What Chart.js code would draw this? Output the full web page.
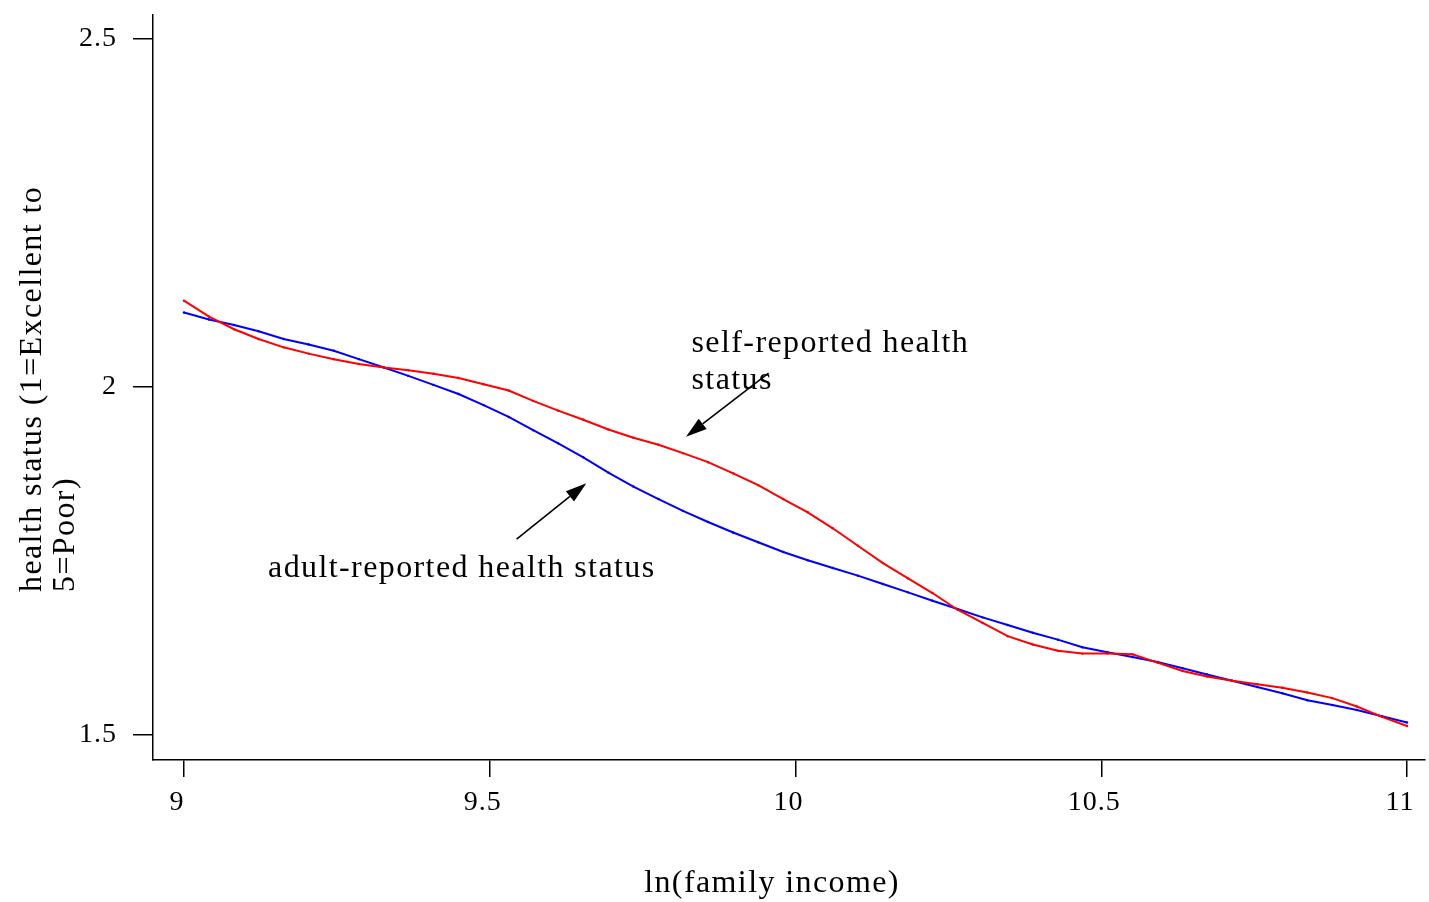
<!DOCTYPE html>
<html>
<head>
<meta charset="utf-8">
<script src="https://cdn.jsdelivr.net/npm/chart.js@4.4.1/dist/chart.umd.min.js"></script>
<style>
  html, body { margin: 0; padding: 0; background: #ffffff; }
  #wrap { width: 1429px; height: 902px; }
</style>
</head>
<body>
<div id="wrap"><canvas id="chart" width="1429" height="902"></canvas></div>
<script>
// ln(family income) grid
const incomeLog = [
  9.000, 9.041, 9.082, 9.122, 9.163, 9.204, 9.245, 9.286, 9.327, 9.367,
  9.408, 9.449, 9.490, 9.531, 9.571, 9.612, 9.653, 9.694, 9.735, 9.776,
  9.816, 9.857, 9.898, 9.939, 9.980, 10.020, 10.061, 10.102, 10.143, 10.184,
  10.224, 10.265, 10.306, 10.347, 10.388, 10.429, 10.469, 10.510, 10.551, 10.592,
  10.633, 10.673, 10.714, 10.755, 10.796, 10.837, 10.878, 10.918, 10.959, 11.000
];

// self-reported health status (red)
const selfReported = [
  2.124, 2.101, 2.083, 2.069, 2.057, 2.048, 2.040, 2.033, 2.028, 2.024,
  2.019, 2.013, 2.004, 1.995, 1.980, 1.966, 1.953, 1.939, 1.927, 1.917,
  1.905, 1.892, 1.876, 1.859, 1.839, 1.820, 1.797, 1.772, 1.747, 1.725,
  1.704, 1.680, 1.661, 1.642, 1.630, 1.621, 1.617, 1.617, 1.616, 1.604,
  1.592, 1.584, 1.578, 1.573, 1.568, 1.561, 1.553, 1.541, 1.526, 1.513
];

// adult-reported health status (blue)
const adultReported = [
  2.107, 2.097, 2.089, 2.080, 2.069, 2.061, 2.052, 2.040, 2.028, 2.016,
  2.003, 1.990, 1.974, 1.957, 1.938, 1.919, 1.899, 1.877, 1.857, 1.839,
  1.822, 1.806, 1.791, 1.777, 1.763, 1.751, 1.740, 1.729, 1.717, 1.705,
  1.693, 1.681, 1.669, 1.658, 1.647, 1.637, 1.626, 1.619, 1.612, 1.605,
  1.596, 1.587, 1.578, 1.569, 1.560, 1.550, 1.543, 1.536, 1.527, 1.518
];

const xTickValues = [9, 9.5, 10, 10.5, 11];
const xTickLabels = ['9', '9.5', '10', '10.5', '11'];
const yTickValues = [1.5, 2, 2.5];
const yTickLabels = ['1.5', '2', '2.5'];

const xTitle = 'ln(family income)';
const yTitleLines = ['health status (1=Excellent to', '5=Poor)'];

// labelled arrows, anchored in data units
const callouts = [
  { lines: ['self-reported health', 'status'], at: [9.830, 2.0507],
    from: [9.956, 2.0201], to: [9.821, 1.9286] },
  { lines: ['adult-reported health status'], at: [9.1375, 1.7266],
    from: [9.544, 1.7816], to: [9.658, 1.8616] }
];

const SERIF = '"Liberation Serif", "Times New Roman", Times, serif';

const textPlugin = {
  id: 'textPlugin',
  beforeDraw(chart) {
    chart.ctx.letterSpacing = '1px';
  },
  afterDraw(chart) {
    const ctx = chart.ctx;
    const xs = chart.scales.x, ys = chart.scales.y;
    ctx.save();
    ctx.letterSpacing = '1.4px';
    ctx.fillStyle = '#000';
    ctx.strokeStyle = '#000';
    ctx.font = '32px ' + SERIF;
    ctx.textBaseline = 'alphabetic';

    callouts.forEach(c => {
      const tx = xs.getPixelForValue(c.at[0]);
      const ty = ys.getPixelForValue(c.at[1]);
      ctx.textAlign = 'left';
      c.lines.forEach((ln, i) => ctx.fillText(ln, tx, ty + i * 37));

      const x1 = xs.getPixelForValue(c.from[0]), y1 = ys.getPixelForValue(c.from[1]);
      const x2 = xs.getPixelForValue(c.to[0]), y2 = ys.getPixelForValue(c.to[1]);
      const ang = Math.atan2(y2 - y1, x2 - x1);
      const headLen = 21, headHalf = 6.5;
      const bx = x2 - headLen * Math.cos(ang), by = y2 - headLen * Math.sin(ang);
      ctx.lineWidth = 1.6;
      ctx.beginPath();
      ctx.moveTo(x1, y1);
      ctx.lineTo(bx, by);
      ctx.stroke();
      ctx.beginPath();
      ctx.moveTo(x2, y2);
      ctx.lineTo(bx + headHalf * Math.sin(ang), by - headHalf * Math.cos(ang));
      ctx.lineTo(bx - headHalf * Math.sin(ang), by + headHalf * Math.cos(ang));
      ctx.closePath();
      ctx.fill();
    });

    // x axis title
    ctx.textAlign = 'center';
    ctx.fillText(xTitle, 772, 892);

    // y axis title, two lines reading upward
    ctx.translate(41, 592);
    ctx.rotate(-Math.PI / 2);
    ctx.textAlign = 'left';
    yTitleLines.forEach((ln, i) => ctx.fillText(ln, 0, i * 33));
    ctx.restore();
  }
};

new Chart(document.getElementById('chart'), {
  type: 'line',
  data: {
    labels: incomeLog,
    datasets: [
      {
        label: 'self-reported health status',
        data: incomeLog.map((x, i) => ({ x, y: selfReported[i] })),
        borderColor: '#ff0000',
        backgroundColor: '#ff0000',
        borderWidth: 2,
        pointRadius: 1.2,
        pointBorderWidth: 0,
        tension: 0,
        fill: false
      },
      {
        label: 'adult-reported health status',
        data: incomeLog.map((x, i) => ({ x, y: adultReported[i] })),
        borderColor: '#0000ff',
        backgroundColor: '#0000ff',
        borderWidth: 2,
        pointRadius: 1.2,
        pointBorderWidth: 0,
        tension: 0,
        fill: false
      }
    ]
  },
  options: {
    responsive: false,
    animation: false,
    devicePixelRatio: 1,
    layout: { padding: { top: 15, right: 1, left: 0, bottom: 0 } },
    plugins: {
      legend: { display: false },
      tooltip: { enabled: false },
      title: { display: false }
    },
    scales: {
      x: {
        type: 'linear',
        min: 8.9494,
        max: 11.0294,
        afterBuildTicks(scale) { scale.ticks = xTickValues.map(v => ({ value: v })); },
        afterFit(scale) {
          scale.height = 142;
          scale.paddingLeft = 0;
          scale.paddingRight = 0;
        },
        border: { display: true, color: '#000', width: 1.5 },
        grid: { display: true, drawOnChartArea: false, drawTicks: true, tickLength: 17, color: '#000', lineWidth: 1.5 },
        ticks: {
          autoSkip: false,
          maxRotation: 0,
          padding: 9,
          labelOffset: -7,
          color: '#000',
          font: { family: SERIF, size: 28 },
          callback: (v, i) => xTickLabels[i]
        }
      },
      y: {
        type: 'linear',
        min: 1.4641,
        max: 2.5345,
        afterBuildTicks(scale) { scale.ticks = yTickValues.map(v => ({ value: v })); },
        afterFit(scale) {
          scale.width = 153;
          scale.paddingTop = 0;
          scale.paddingBottom = 0;
        },
        border: { display: true, color: '#000', width: 1.5 },
        grid: { display: true, drawOnChartArea: false, drawTicks: true, tickLength: 20, color: '#000', lineWidth: 1.5 },
        ticks: {
          autoSkip: false,
          padding: 16,
          color: '#000',
          font: { family: SERIF, size: 28 },
          callback: (v, i) => yTickLabels[i]
        }
      }
    }
  },
  plugins: [textPlugin]
});
</script>
</body>
</html>
